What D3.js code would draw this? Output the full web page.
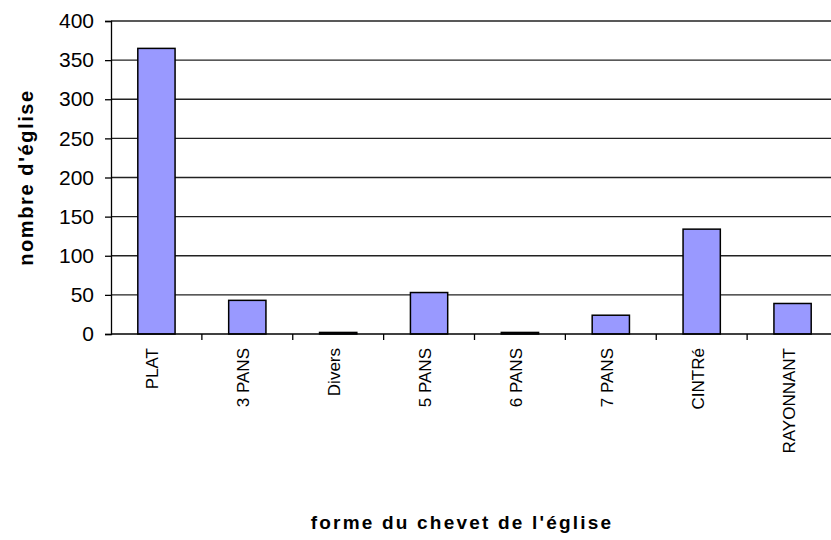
<!DOCTYPE html>
<html>
<head>
<meta charset="utf-8">
<script src="https://cdn.jsdelivr.net/npm/d3@7"></script>
<style>
  body { margin: 0; background: #fff; }
  svg { display: block; font-family: Arial, "Liberation Sans", sans-serif; }
</style>
</head>
<body>
<svg id="chart" width="831" height="540"></svg>
<script>
// chevet shapes and counts
var categories = ["PLAT", "3 PANS", "Divers", "5 PANS", "6 PANS", "7 PANS", "CINTRé", "RAYONNANT"];
var counts = [365, 43, 2, 53, 2, 24, 134, 39];
var yTicks = [0, 50, 100, 150, 200, 250, 300, 350, 400];

var svg = d3.select("#chart");
var plotLeft = 111, plotRight = 838, plotTop = 21, plotBottom = 334;

var x = d3.scaleBand().domain(categories).range([plotLeft, plotRight]).padding(0);
var y = d3.scaleLinear().domain([0, 400]).range([plotBottom, plotTop]);

var data = categories.map(function(c, i) { return { cat: c, value: counts[i] }; });

// horizontal gridlines
svg.append("g")
  .selectAll("line")
  .data(yTicks.slice(1))
  .enter().append("line")
    .attr("x1", plotLeft).attr("x2", plotRight)
    .attr("y1", function(d) { return y(d); })
    .attr("y2", function(d) { return y(d); })
    .attr("stroke", "#222")
    .attr("stroke-width", 1.3);

// y axis
var yAxis = d3.axisLeft(y).tickValues(yTicks).tickSize(6).tickPadding(11);
var gy = svg.append("g").attr("transform", "translate(" + plotLeft + ",0)").call(yAxis);
gy.select(".domain").attr("stroke", "#000").attr("stroke-width", 1.3);
gy.selectAll(".tick line").attr("stroke", "#000").attr("stroke-width", 1.3);
gy.selectAll("text").attr("font-size", "21px").attr("fill", "#000").attr("font-family", "Arial, 'Liberation Sans', sans-serif");

// bars
var barW = x.bandwidth() * 0.41;
svg.append("g")
  .selectAll("rect")
  .data(data)
  .enter().append("rect")
    .attr("x", function(d) { return x(d.cat) + (x.bandwidth() - barW) / 2; })
    .attr("y", function(d) { return y(d.value); })
    .attr("width", barW)
    .attr("height", function(d) { return y(0) - y(d.value); })
    .attr("fill", "#9999ff")
    .attr("stroke", "#000")
    .attr("stroke-width", 1.5);

// x axis line + boundary ticks
svg.append("line")
  .attr("x1", plotLeft).attr("x2", plotRight)
  .attr("y1", plotBottom).attr("y2", plotBottom)
  .attr("stroke", "#000").attr("stroke-width", 1.3);

svg.append("g")
  .selectAll("line")
  .data(categories)
  .enter().append("line")
    .attr("x1", function(d) { return x(d) + x.bandwidth(); })
    .attr("x2", function(d) { return x(d) + x.bandwidth(); })
    .attr("y1", plotBottom).attr("y2", plotBottom + 6)
    .attr("stroke", "#000").attr("stroke-width", 1.3);

// rotated category labels
svg.append("g")
  .selectAll("text")
  .data(categories)
  .enter().append("text")
    .attr("transform", function(d) {
      return "translate(" + (x(d) + x.bandwidth() / 2 + 2) + "," + (plotBottom + 14) + ") rotate(-90)";
    })
    .attr("text-anchor", "end")
    .attr("font-size", "17px")
    .attr("fill", "#000")
    .text(function(d) { return d; });

// axis titles
svg.append("text")
  .attr("transform", "translate(33," + ((plotTop + plotBottom) / 2) + ") rotate(-90)")
  .attr("text-anchor", "middle")
  .attr("font-weight", "bold")
  .attr("font-size", "20px")
  .attr("letter-spacing", "1.6px")
  .text("nombre d'église");

svg.append("text")
  .attr("x", 462).attr("y", 529)
  .attr("text-anchor", "middle")
  .attr("font-weight", "bold")
  .attr("font-size", "19px")
  .attr("letter-spacing", "2.2px")
  .text("forme du chevet de l'église");
</script>
</body>
</html>
